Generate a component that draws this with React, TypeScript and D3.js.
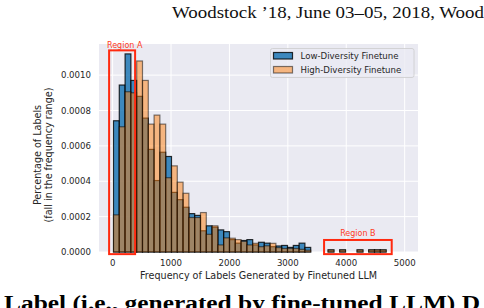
import React from "react";
import * as d3 from "d3";

const binStart = 15;
const binWidth = 99.3;

const lowDiversity = [
  0.000742, 0.000944, 0.00112, 0.00097, 0.00088, 0.000757, 0.00058, 0.000404, 0.000564, 0.00054,
  0.000337, 0.000296, 0.000253, 0.000217, 0.000207, 0.00012, 0.000148, 0.00014, 0.000125, 0.000115,
  0.00007, 0.00005, 0.000065, 0.00007, 0.00004, 0.000055, 0.00005, 0.00003, 0.000034, 0.000037,
  0.000026, 0.000037, 0.00005, 0.000026, 0, 0, 0, 0.000012, 0, 0.000012,
  0, 0, 0.000012, 0, 0.000012, 0.000012, 0.000012, 0, 0, 0,
];
const highDiversity = [
  0.00021, 0.000708, 0.000906, 0.0009, 0.00108, 0.00097, 0.000723, 0.000774, 0.000723, 0.00042,
  0.000487, 0.000395, 0.000332, 0.000195, 0.000195, 0.000223, 0.0001, 0.000148, 0.00004, 0.00008,
  0.000078, 0.00007, 0.00006, 0.00004, 0.000049, 0.00003, 0.000035, 0.000049, 0.000025, 0.00002,
  0.00002, 0.00002, 0.000015, 0.00001, 0, 0, 0, 0.000012, 0, 0.000012,
  0, 0, 0.000012, 0, 0.000012, 0.000012, 0.000012, 0, 0, 0,
];

const xTicks = [0, 1000, 2000, 3000, 4000, 5000];
const yTicks = [0, 0.0002, 0.0004, 0.0006, 0.0008, 0.001];
const seriesNames = ["Low-Diversity Finetune", "High-Diversity Finetune"];

const regionA = { x0: -60, x1: 385, y0: -0.000012, y1: 0.00114, label: "Region A" };
const regionB = { x0: 3620, x1: 4778, y0: -0.000012, y1: 0.000068, label: "Region B" };

const W = 484;
const H = 308;
const M = { left: 99, right: 418, top: 44, bottom: 252 };
const FONT = "'DejaVu Sans', sans-serif";

export default function App() {
  const x = d3.scaleLinear().domain([-233, 5228]).range([M.left, M.right]);
  const y = d3.scaleLinear().domain([0, 0.001176]).range([M.bottom, M.top]);
  const fmtY = d3.format(".4f");

  const bars = (vals: number[], fill: string, fillOp: number, edgeOp: number, key: string) =>
    vals.map((v, i) => {
      const x0 = x(binStart + i * binWidth);
      const x1 = x(binStart + (i + 1) * binWidth);
      return (
        <rect
          key={key + i}
          x={x0}
          y={y(v)}
          width={x1 - x0}
          height={y(0) - y(v)}
          fill={fill}
          fillOpacity={fillOp}
          stroke="#000"
          strokeOpacity={edgeOp}
          strokeWidth={1.2}
        />
      );
    });

  return (
    <svg width={W} height={H} style={{ position: "absolute", left: 0, top: 0 }}>
      <rect x={0} y={0} width={W} height={H} fill="#fff" />
      <text x={172} y={18} fontFamily="'Liberation Serif', serif" fontSize={16.5} fill="#111" textLength={312} lengthAdjust="spacingAndGlyphs">
        Woodstock ’18, June 03–05, 2018, Wood
      </text>

      <rect x={M.left} y={M.top} width={M.right - M.left} height={M.bottom - M.top} fill="#EAEAF2" />
      {xTicks.map((t) => (
        <line key={"gx" + t} x1={x(t)} x2={x(t)} y1={M.top} y2={M.bottom} stroke="#fff" strokeWidth={1} />
      ))}
      {yTicks.map((t) => (
        <line key={"gy" + t} x1={M.left} x2={M.right} y1={y(t)} y2={y(t)} stroke="#fff" strokeWidth={1} />
      ))}

      {bars(lowDiversity, "#1f77b4", 0.85, 0.8, "l")}
      {bars(highDiversity, "#ff7f0e", 0.5, 0.5, "h")}

      {yTicks.map((t) => (
        <text key={"ty" + t} x={91} y={y(t)} dy="0.35em" textAnchor="end" fontFamily={FONT} fontSize={8.6} fill="#262626">
          {fmtY(t)}
        </text>
      ))}
      {xTicks.map((t) => (
        <text key={"tx" + t} x={x(t)} y={265.5} textAnchor="middle" fontFamily={FONT} fontSize={8.6} fill="#262626">
          {t}
        </text>
      ))}
      <text x={(M.left + M.right) / 2} y={278.5} textAnchor="middle" fontFamily={FONT} fontSize={9.6} fill="#262626">
        Frequency of Labels Generated by Finetuned LLM
      </text>
      <g transform="translate(37.5,155) rotate(-90)">
        <text x={0} y={0} dy="0.35em" textAnchor="middle" fontFamily={FONT} fontSize={9.6} fill="#262626">
          Percentage of Labels
        </text>
        <text x={0} y={11} dy="0.35em" textAnchor="middle" fontFamily={FONT} fontSize={9.6} fill="#262626">
          (fall in the frequency range)
        </text>
      </g>

      {/* Legend */}
      <rect x={270.5} y={48.5} width={143.5} height={29} rx={2} fill="#EAEAF2" fillOpacity={0.8} stroke="#cccccc" strokeWidth={0.8} />
      {seriesNames.map((name, i) => (
        <g key={name}>
          <rect
            x={273.5}
            y={52.5 + i * 14}
            width={19}
            height={6.5}
            fill={i === 0 ? "#1f77b4" : "#ff7f0e"}
            fillOpacity={i === 0 ? 0.85 : 0.5}
            stroke="#000"
            strokeOpacity={i === 0 ? 0.8 : 0.5}
            strokeWidth={1.2}
          />
          <text x={300.5} y={55.8 + i * 14} dy="0.35em" fontFamily={FONT} fontSize={8.6} fill="#262626">
            {name}
          </text>
        </g>
      ))}

      {/* Annotations */}
      {[regionA, regionB].map((r) => (
        <rect
          key={r.label}
          x={x(r.x0)}
          y={y(r.y1)}
          width={x(r.x1) - x(r.x0)}
          height={y(r.y0) - y(r.y1)}
          fill="none"
          stroke="#ff2a10"
          strokeWidth={2}
        />
      ))}
      <text x={107} y={48} fontFamily={FONT} fontSize={8} fill="#ff3a24">
        {regionA.label}
      </text>
      <text x={(x(regionB.x0) + x(regionB.x1)) / 2} y={236} textAnchor="middle" fontFamily={FONT} fontSize={8} fill="#ff3a24">
        {regionB.label}
      </text>

      <text x={4} y={310} fontFamily="'Liberation Serif', serif" fontWeight="bold" fontSize={20} fill="#000" textLength={476} lengthAdjust="spacingAndGlyphs">
        Label (i.e., generated by fine-tuned LLM) D
      </text>
    </svg>
  );
}
